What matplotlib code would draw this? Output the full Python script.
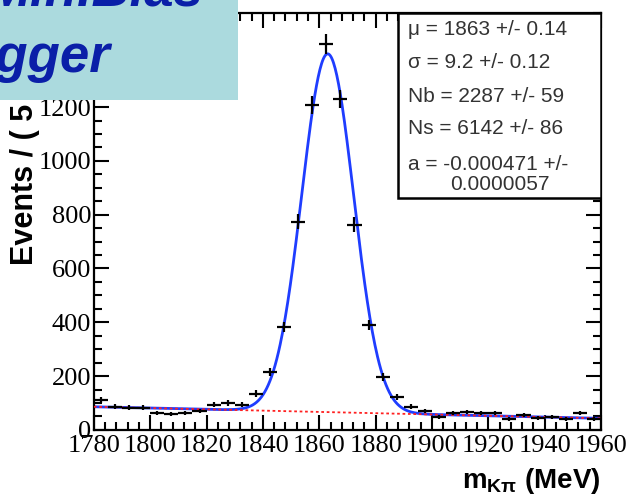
import numpy as np
import matplotlib
matplotlib.use('Agg')
import matplotlib.pyplot as plt
from matplotlib.ticker import MultipleLocator
from matplotlib.patches import Rectangle

# K-pi invariant mass, 5 MeV bins
mass = np.arange(1782.5, 1960.0, 5.0)
counts = [110, 86, 82, 82, 63, 58, 62, 71, 93, 100, 93, 135,
          216, 383, 773, 1208, 1435, 1230, 762, 390, 197, 123,
          86, 71, 48, 63, 67, 63, 62, 40, 56, 45, 48, 40, 63, 41]
bin_w = 5.0

# fit results
mu, mu_err = 1863, 0.14
sigma, sigma_err = 9.2, 0.12
nb, nb_err = 2287, 59
ns, ns_err = 6142, 86
a_val, a_err = '-0.000471', '0.0000057'
bkg_ends = [86, 43]   # background level at 1780 and 1960

counts = np.array(counts, dtype=float)
errs = np.sqrt(counts)

plt.rcParams['mathtext.fontset'] = 'custom'
plt.rcParams['mathtext.rm'] = 'Liberation Sans'
plt.rcParams['mathtext.bf'] = 'Liberation Sans:bold'

fig = plt.figure(figsize=(6.3, 4.97), dpi=100)
ax = fig.add_axes([0.149, 0.135, 0.805, 0.839])

mm = np.linspace(1780, 1960, 600)
bkg = np.interp(mm, [1780, 1960], bkg_ends)
sig = ns * bin_w / (sigma * np.sqrt(2 * np.pi)) * np.exp(-0.5 * ((mm - mu) / sigma) ** 2)

ax.plot(mm, sig + bkg, color='#1f3dff', lw=2.0, zorder=2)
ax.plot(mm, bkg, color='#ff2020', lw=1.3, ls=(0, (1.5, 1.5)), zorder=3)
ax.errorbar(mass, counts, xerr=bin_w / 2, yerr=errs, fmt='none',
            ecolor='black', elinewidth=1.6, capsize=0, zorder=4)

ax.set_xlim(1780, 1960)
ax.set_ylim(0, 1550)
ax.xaxis.set_major_locator(MultipleLocator(20))
ax.xaxis.set_minor_locator(MultipleLocator(4))
ax.yaxis.set_major_locator(MultipleLocator(200))
ax.yaxis.set_minor_locator(MultipleLocator(50))
ax.tick_params(which='both', direction='in', top=True, right=True, width=1.5)
ax.tick_params(which='major', length=10.5)
ax.tick_params(which='minor', length=5.5)
ax.tick_params(axis='x', pad=4)
ax.tick_params(axis='y', pad=2)
for lab in ax.get_xticklabels() + ax.get_yticklabels():
    lab.set_fontfamily('Liberation Serif')
    lab.set_fontsize(19)
for sp in ax.spines.values():
    sp.set_linewidth(1.6)

# stats box
ax.add_patch(Rectangle((0.600, 0.556), 0.400, 0.444, transform=ax.transAxes,
                       facecolor='white', edgecolor='black', lw=1.8, zorder=5))
stats = ['\u03bc = %d +/- %.2f' % (mu, mu_err),
         '\u03c3 = %.1f +/- %.2f' % (sigma, sigma_err),
         'Nb = %d +/- %d' % (nb, nb_err),
         'Ns = %d +/- %d' % (ns, ns_err),
         'a = %s +/-' % a_val]
ys = [30, 63, 97, 129, 165]
for s, yp in zip(stats, ys):
    ax.text(0.619, (430 - yp) / 417, s, transform=ax.transAxes, fontsize=15,
            family='Liberation Sans', color='#333333', va='center', ha='left', zorder=6)
ax.text(0.800, (430 - 185) / 417, a_err, transform=ax.transAxes, fontsize=15,
        family='Liberation Sans', color='#333333', va='center', ha='center', zorder=6)

fig.text(600 / 630, 1 - 488 / 497, r'$\mathbf{m_{K\pi}}$ (MeV)', ha='right', va='baseline',
         fontsize=20, fontweight='bold', family='Liberation Sans')
fig.text(25 / 630, 1 - 265 / 497, 'Events / ( 5 MeV )', rotation=90, rotation_mode='anchor',
         ha='left', va='center', fontsize=22, fontweight='bold', family='Liberation Sans')

# title banner
fig.patches.append(Rectangle((0, 1 - 100 / 497), 238 / 630, 100 / 497,
                             transform=fig.transFigure, facecolor='#abdade',
                             edgecolor='none', zorder=10))
fig.text(203 / 630, 1 - 5 / 497, 'Min.Bias', ha='right', va='baseline', fontsize=38,
         fontweight='bold', fontstyle='italic', family='Liberation Sans', color='#0a1fa8', zorder=11)
fig.text(110 / 630, 1 - 72 / 497, 'Trigger', ha='right', va='baseline', fontsize=38,
         fontweight='bold', fontstyle='italic', family='Liberation Sans', color='#0a1fa8', zorder=11)

fig.savefig('out.png', dpi=100)
